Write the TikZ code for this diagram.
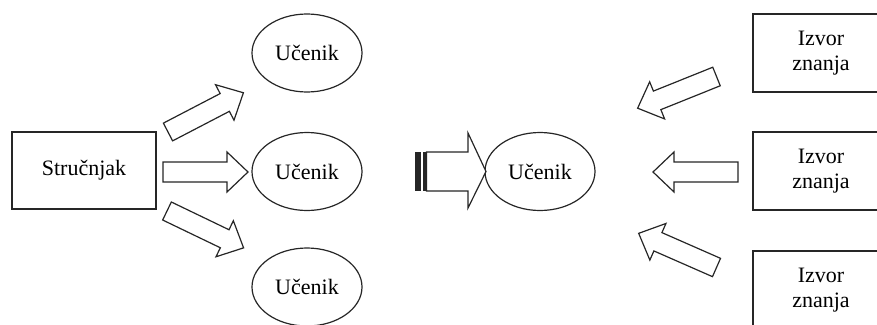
\documentclass[tikz,border=0pt]{standalone}
\usepackage{fontspec}
\setmainfont{Liberation Serif}
\usetikzlibrary{shapes.geometric}

\tikzset{
  every node/.style={font=\fontsize{22}{25}\selectfont},
  outline/.style={draw=black!85, line width=1.2pt, line join=miter},
  learner/.style={outline, ellipse, minimum width=110pt, minimum height=78pt, inner sep=0pt},
  sourcebox/.style={outline, rectangle, minimum width=136pt, minimum height=78pt, inner sep=0pt, align=center},
  blockarrow/.style={outline, fill=white},
  stripe/.style={fill=black!85, draw=none}
}

% hollow block arrow: tail centre at the origin, pointing along +x
\newcommand{\hollowarrow}[3]{%
  \draw[blockarrow, shift={(#1,#2)}, rotate=#3]
    (0,-10) -- (64,-10) -- (64,-20) -- (85,0) -- (64,20) -- (64,10) -- (0,10) -- cycle;}

\begin{document}
\begin{tikzpicture}[x=1pt, y=-1pt]
  \useasboundingbox (0,0) rectangle (877,324);
  \clip (0,0) rectangle (877,324);

  % expert on the left
  \node[outline, rectangle, minimum width=144pt, minimum height=77pt, inner sep=0pt] (expert) at (84,170.5) {Stručnjak};

  % learners taught by the expert
  \node[learner] (l1) at (307,53) {Učenik};
  \node[learner] (l2) at (307,171.5) {Učenik};
  \node[learner] (l3) at (307,287) {Učenik};

  % learner fed by several sources
  \node[learner] (l4) at (540,171.5) {Učenik};

  % sources of knowledge
  \node[sourcebox] (s1) at (821,53) {Izvor\\znanja};
  \node[sourcebox] (s2) at (821,171) {Izvor\\znanja};
  \node[sourcebox] (s3) at (821,290) {Izvor\\znanja};

  % expert to learners
  \hollowarrow{168}{132}{27.5}
  \hollowarrow{163}{172}{0}
  \hollowarrow{167}{211}{-25.7}

  % sources to learner
  \hollowarrow{716.5}{76.5}{201.9}
  \hollowarrow{738}{172}{180}
  \hollowarrow{716.5}{267.5}{156.3}

  % striped arrow between the two learner groups
  \fill[stripe] (415,152) rectangle (420.5,191);
  \fill[stripe] (422.5,152) rectangle (425.5,191);
  \draw[blockarrow] (426.5,152) -- (468,152) -- (468,133) -- (486,171.5)
    -- (468,208) -- (468,191) -- (426.5,191) -- cycle;
\end{tikzpicture}
\end{document}
